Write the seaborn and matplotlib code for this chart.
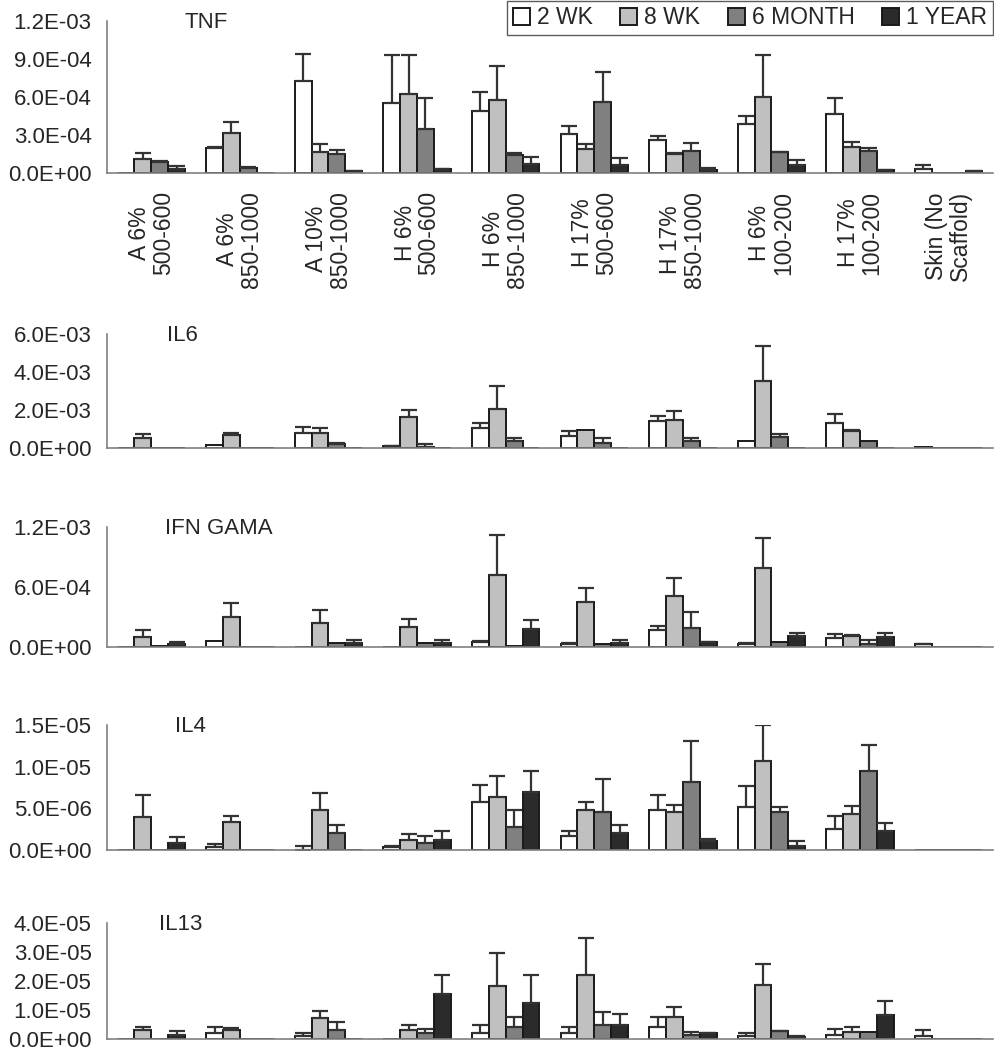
import matplotlib
matplotlib.use('Agg')
import matplotlib.pyplot as plt
import seaborn as sns
import pandas as pd
import numpy as np
from matplotlib.ticker import FuncFormatter, FixedLocator

sns.set_style("white")
plt.rcParams['font.family'] = ['Liberation Sans', 'DejaVu Sans']

groups = ['A 6%\n500-600', 'A 6%\n850-1000', 'A 10%\n850-1000', 'H 6%\n500-600',
          'H 6%\n850-1000', 'H 17%\n500-600', 'H 17%\n850-1000', 'H 6%\n100-200',
          'H 17%\n100-200', 'Skin (No\nScaffold)']
times = ['2 WK', '8 WK', '6 MONTH', '1 YEAR']
colors = ['#ffffff', '#c0c0c0', '#808080', '#2b2b2b']

# TNF (x1e-4)
tnf_mean = {
    '2 WK':    [0, 1.98, 7.28, 5.49, 4.90, 3.03, 2.58, 3.82, 4.62, 0.26],
    '8 WK':    [1.10, 3.14, 1.66, 6.25, 5.72, 1.90, 1.50, 5.96, 2.03, 0],
    '6 MONTH': [0.87, 0.40, 1.45, 3.45, 1.37, 5.62, 1.71, 1.61, 1.71, 0],
    '1 YEAR':  [0.26, 0, 0.13, 0.29, 0.71, 0.61, 0.18, 0.61, 0.18, 0.10],
}
tnf_err = {
    '2 WK':    [0, 0.05, 2.14, 3.82, 1.48, 0.66, 0.35, 0.66, 1.31, 0.35],
    '8 WK':    [0.48, 0.90, 0.58, 3.06, 2.69, 0.34, 0.05, 3.35, 0.42, 0],
    '6 MONTH': [0.05, 0.03, 0.37, 2.48, 0.21, 2.34, 0.66, 0.05, 0.24, 0],
    '1 YEAR':  [0.24, 0, 0.02, 0.03, 0.56, 0.52, 0.22, 0.42, 0.03, 0.02],
}
# IL6 (x1e-3)
il6_mean = {
    '2 WK':    [0, 0.16, 0.82, 0.10, 1.05, 0.67, 1.42, 0.40, 1.35, 0.07],
    '8 WK':    [0.54, 0.68, 0.82, 1.63, 2.09, 0.96, 1.49, 3.56, 0.91, 0],
    '6 MONTH': [0, 0, 0.23, 0.09, 0.37, 0.30, 0.37, 0.60, 0.39, 0],
    '1 YEAR':  [0, 0, 0, 0, 0, 0, 0, 0, 0, 0],
}
il6_err = {
    '2 WK':    [0, 0, 0.30, 0.02, 0.30, 0.24, 0.28, 0, 0.44, 0],
    '8 WK':    [0.21, 0.14, 0.23, 0.39, 1.19, 0, 0.46, 1.81, 0.07, 0],
    '6 MONTH': [0, 0, 0.07, 0.14, 0.16, 0.23, 0.16, 0.15, 0, 0],
    '1 YEAR':  [0, 0, 0, 0, 0, 0, 0, 0, 0, 0],
}
# IFN GAMA (x1e-4)
ifn_mean = {
    '2 WK':    [0, 0.57, 0, 0, 0.53, 0.33, 1.70, 0.33, 0.87, 0.27],
    '8 WK':    [0.97, 3.00, 2.41, 1.97, 7.25, 4.55, 5.11, 7.95, 1.14, 0],
    '6 MONTH': [0.13, 0, 0.40, 0.40, 0.13, 0.27, 1.87, 0.53, 0.33, 0],
    '1 YEAR':  [0.27, 0, 0.40, 0.40, 1.84, 0.40, 0.47, 1.10, 1.00, 0],
}
ifn_err = {
    '2 WK':    [0, 0, 0, 0, 0.03, 0.03, 0.44, 0.03, 0.40, 0.03],
    '8 WK':    [0.73, 1.41, 1.27, 0.87, 3.98, 1.40, 1.84, 2.98, 0.10, 0],
    '6 MONTH': [0, 0, 0, 0, 0, 0, 1.67, 0, 0.40, 0],
    '1 YEAR':  [0.27, 0, 0.30, 0.30, 0.87, 0.33, 0.05, 0.34, 0.40, 0],
}
# IL4 (x1e-6)
il4_mean = {
    '2 WK':    [0, 0.40, 0.05, 0.40, 5.76, 1.72, 4.76, 5.12, 2.56, 0],
    '8 WK':    [3.92, 3.40, 4.76, 1.16, 6.32, 4.76, 4.60, 10.72, 4.28, 0],
    '6 MONTH': [0, 0, 2.08, 0.84, 2.72, 4.60, 8.20, 4.60, 9.52, 0],
    '1 YEAR':  [0.88, 0, 0, 1.20, 6.96, 2.08, 1.04, 0.52, 2.24, 0],
}
il4_err = {
    '2 WK':    [0, 0.28, 0.45, 0.05, 2.04, 0.52, 1.88, 2.56, 1.52, 0],
    '8 WK':    [2.72, 0.68, 2.04, 0.72, 2.56, 1.04, 0.84, 4.24, 1.00, 0],
    '6 MONTH': [0, 0, 0.96, 0.88, 2.04, 3.92, 4.88, 0.52, 3.08, 0],
    '1 YEAR':  [0.68, 0, 0, 1.04, 2.56, 0.96, 0.32, 0.52, 1.00, 0],
}
# IL13 (x1e-5)
il13_mean = {
    '2 WK':    [0, 0.19, 0.10, 0, 0.19, 0.19, 0.43, 0.10, 0.15, 0.10],
    '8 WK':    [0.30, 0.30, 0.73, 0.30, 1.83, 2.22, 0.77, 1.88, 0.24, 0],
    '6 MONTH': [0, 0, 0.30, 0.19, 0.43, 0.48, 0.14, 0.26, 0.24, 0],
    '1 YEAR':  [0.15, 0, 0, 1.55, 1.25, 0.48, 0.19, 0.07, 0.82, 0],
}
il13_err = {
    '2 WK':    [0, 0.24, 0.09, 0, 0.30, 0.24, 0.34, 0.09, 0.19, 0.20],
    '8 WK':    [0.13, 0.09, 0.24, 0.19, 1.16, 1.26, 0.34, 0.72, 0.19, 0],
    '6 MONTH': [0, 0, 0.28, 0.15, 0.34, 0.44, 0.10, 0.02, 0, 0],
    '1 YEAR':  [0.13, 0, 0, 0.67, 0.97, 0.40, 0.02, 0.03, 0.49, 0],
}

panels = [
    # name, mean, err, unit, ymax, ystep, title_x
    ('TNF', tnf_mean, tnf_err, 1e-4, 1.2e-3, 3e-4, 0.088),
    ('IL6', il6_mean, il6_err, 1e-3, 6e-3, 2e-3, 0.068),
    ('IFN GAMA', ifn_mean, ifn_err, 1e-4, 1.2e-3, 6e-4, 0.066),
    ('IL4', il4_mean, il4_err, 1e-6, 1.5e-5, 5e-6, 0.077),
    ('IL13', il13_mean, il13_err, 1e-5, 4e-5, 1e-5, 0.059),
]

# axes rectangles in figure fraction (left, bottom, width, height)
rects = [
    (0.1075, 0.8355, 0.8905, 0.1445),
    (0.1075, 0.5730, 0.8905, 0.1089),
    (0.1075, 0.3838, 0.8905, 0.1140),
    (0.1075, 0.1905, 0.8905, 0.1190),
    (0.1075, 0.0105, 0.8905, 0.1100),
]


def sci_fmt(v, pos):
    s = '%.1E' % v
    mant, ex = s.split('E')
    sign = ex[0]
    num = int(ex[1:])
    return '%sE%s%02d' % (mant, sign, num)


fig = plt.figure(figsize=(9.95, 10.5), dpi=100)
gray = '#808080'
fs = 16

for i, (name, mean, err, unit, ymax, ystep, tx) in enumerate(panels):
    ax = fig.add_axes(rects[i])
    rows = []
    for t in times:
        for g, m, e in zip(groups, mean[t], err[t]):
            rows.append({'Group': g, 'Time': t, 'Value': m * unit, 'Err': e * unit})
    df = pd.DataFrame(rows)

    sns.barplot(ax=ax, data=df, x='Group', y='Value', hue='Time', order=groups,
                hue_order=times, palette=colors, edgecolor='#1a1a1a', linewidth=1.4,
                width=0.76, errorbar=None, legend=(i == 0))

    for cont, t in zip(ax.containers, times):
        xs = [b.get_x() + b.get_width() / 2 for b in cont]
        sub = df[df['Time'] == t].set_index('Group').loc[groups]
        vals = sub['Value'].values
        errs = sub['Err'].values
        mask = errs > 0
        ax.errorbar(np.array(xs)[mask], vals[mask],
                    yerr=[np.zeros(mask.sum()), errs[mask]],
                    fmt='none', ecolor='#333333', elinewidth=1.6, capsize=5.5,
                    capthick=1.6, zorder=1)

    ax.set_ylim(0, ymax)
    ax.set_xlim(-0.5, len(groups) - 0.5)
    ax.yaxis.set_major_locator(FixedLocator(np.arange(0, ymax + ystep / 2, ystep)))
    ax.yaxis.set_major_formatter(FuncFormatter(sci_fmt))
    ax.set_xticks(np.arange(-0.5, len(groups), 1.0), minor=True)
    ax.tick_params(axis='x', which='minor', length=6, width=1, color=gray, direction='out')
    ax.tick_params(axis='x', which='major', length=0, pad=13)
    ax.tick_params(axis='y', length=6, width=1, color=gray, direction='out',
                   labelsize=fs, pad=5)
    ax.set_xticks(range(len(groups)))
    if i == 0:
        ax.set_xticklabels(groups, rotation=90, fontsize=fs + 0.5, ha='center',
                           va='top', multialignment='center', linespacing=1.05)
    else:
        ax.set_xticklabels([])
    ax.set_xlabel('')
    ax.set_ylabel('')
    for side in ['top', 'right']:
        ax.spines[side].set_visible(False)
    for side in ['left', 'bottom']:
        ax.spines[side].set_color(gray)
        ax.spines[side].set_linewidth(1.2)
    ax.text(tx, 0.99, name, transform=ax.transAxes, fontsize=fs, ha='left', va='center')

    if i == 0:
        leg = ax.legend(loc='upper right', bbox_to_anchor=(1.0, 1.135), ncol=4,
                        frameon=True, fancybox=False, fontsize=fs + 0.5, handlelength=0.75,
                        handleheight=0.75, handletextpad=0.3, columnspacing=1.2,
                        borderpad=0.25, borderaxespad=0, title=None)
        leg.get_frame().set_edgecolor('#333333')
        leg.get_frame().set_linewidth(1.0)

fig.savefig('out.png', dpi=100)
